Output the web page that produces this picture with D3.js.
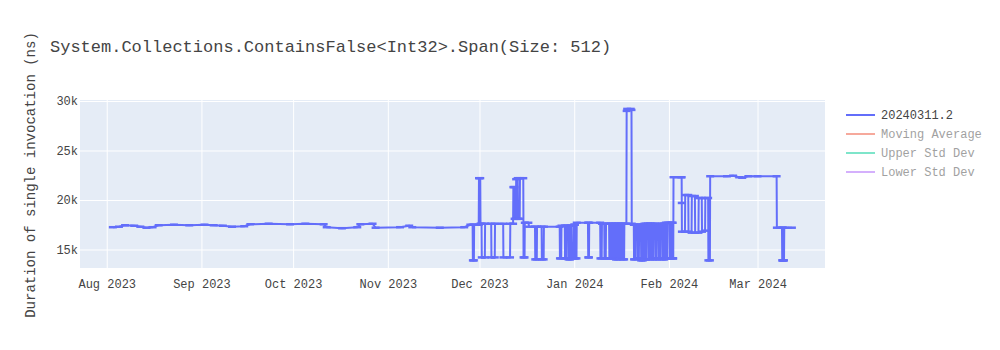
<!DOCTYPE html>
<html>
<head>
<meta charset="utf-8">
<script src="https://cdn.jsdelivr.net/npm/d3@7"></script>
<style>
  body { margin: 0; background: #fff; }
  svg text { font-family: "Liberation Mono", "Courier New", monospace; }
</style>
</head>
<body>
<div id="chart"></div>
<script>
// benchmark samples: [time (UTC), duration ns]
var samples = [
  ["2023-08-03 00", 17250], ["2023-08-05 00", 17300], ["2023-08-07 00", 17450],
  ["2023-08-10 00", 17400], ["2023-08-12 00", 17300], ["2023-08-14 00", 17200],
  ["2023-08-16 00", 17250], ["2023-08-18 00", 17450], ["2023-08-23 00", 17500],
  ["2023-08-28 00", 17450], ["2023-09-02 00", 17500], ["2023-09-05 00", 17450],
  ["2023-09-08 00", 17400], ["2023-09-11 00", 17300], ["2023-09-15 00", 17350],
  ["2023-09-17 00", 17550], ["2023-09-23 00", 17600], ["2023-09-30 00", 17550],
  ["2023-10-05 00", 17600], ["2023-10-11 00", 17550], ["2023-10-12 00", 17250],
  ["2023-10-17 00", 17150], ["2023-10-22 00", 17250], ["2023-10-23 00", 17550],
  ["2023-10-27 00", 17600], ["2023-10-28 00", 17200], ["2023-11-05 00", 17250],
  ["2023-11-08 00", 17400], ["2023-11-09 00", 17250], ["2023-11-18 00", 17200],
  ["2023-11-26 00", 17250], ["2023-11-28 00", 17500],
  // december
  ["2023-11-28 18", 17500], ["2023-11-28 20", 13900], ["2023-11-29 04", 13900],
  ["2023-11-29 06", 17500], ["2023-11-30 18", 17500], ["2023-11-30 20", 22200],
  ["2023-12-01 06", 22200], ["2023-12-01 08", 17600], ["2023-12-01 16", 17600],
  ["2023-12-01 18", 14200], ["2023-12-02 18", 14200], ["2023-12-02 20", 17600],
  ["2023-12-04 20", 17600], ["2023-12-04 22", 14200], ["2023-12-06 00", 14200],
  ["2023-12-06 02", 17600], ["2023-12-08 18", 17600], ["2023-12-08 20", 14200],
  ["2023-12-11 00", 14200], ["2023-12-11 02", 17600], ["2023-12-12 00", 17600],
  ["2023-12-12 02", 21300], ["2023-12-12 10", 21300], ["2023-12-12 12", 18100],
  ["2023-12-12 22", 18100], ["2023-12-13 00", 22100], ["2023-12-13 12", 22200],
  ["2023-12-13 14", 18100], ["2023-12-14 04", 18100], ["2023-12-14 06", 22200],
  ["2023-12-15 08", 22200], ["2023-12-15 10", 14200], ["2023-12-15 18", 14200],
  ["2023-12-15 20", 17700], ["2023-12-17 00", 17700], ["2023-12-17 06", 17300],
  ["2023-12-19 04", 17300], ["2023-12-19 06", 14000], ["2023-12-19 18", 14000],
  ["2023-12-19 20", 17300], ["2023-12-21 08", 17300], ["2023-12-21 10", 14000],
  ["2023-12-22 00", 14000], ["2023-12-22 02", 17300], ["2023-12-27 06", 17300],
  ["2023-12-27 08", 14100], ["2023-12-27 18", 14100], ["2023-12-27 20", 17400],
  ["2023-12-28 22", 17400], ["2023-12-29 00", 14100], ["2023-12-29 10", 14100],
  ["2023-12-29 12", 17400], ["2023-12-30 02", 17400], ["2023-12-30 04", 14000],
  ["2023-12-30 16", 14000], ["2023-12-30 18", 17400], ["2023-12-31 04", 17400],
  ["2023-12-31 06", 14100], ["2023-12-31 20", 14100], ["2023-12-31 22", 17500],
  // january
  ["2024-01-01 06", 17500], ["2024-01-01 08", 14100], ["2024-01-01 18", 14100],
  ["2024-01-01 20", 17700], ["2024-01-05 12", 17700], ["2024-01-05 14", 14200],
  ["2024-01-05 20", 14200], ["2024-01-05 22", 17700], ["2024-01-09 12", 17700],
  ["2024-01-09 14", 14100], ["2024-01-10 00", 14100], ["2024-01-10 02", 17600],
  ["2024-01-10 20", 17600], ["2024-01-10 22", 14100], ["2024-01-11 08", 14100],
  ["2024-01-11 10", 17600], ["2024-01-12 10", 17600], ["2024-01-12 12", 14100],
  ["2024-01-12 22", 14100], ["2024-01-13 00", 17600], ["2024-01-13 12", 17600],
  ["2024-01-13 14", 14100], ["2024-01-14 00", 14100], ["2024-01-14 02", 17600],
  ["2024-01-14 14", 17600], ["2024-01-14 16", 14000], ["2024-01-15 04", 14000],
  ["2024-01-15 06", 17600], ["2024-01-15 16", 17600], ["2024-01-15 18", 14100],
  ["2024-01-16 06", 14100], ["2024-01-16 08", 17600], ["2024-01-16 20", 17600],
  ["2024-01-16 22", 14000], ["2024-01-17 08", 14000], ["2024-01-17 10", 17600],
  ["2024-01-18 02", 17600], ["2024-01-18 04", 29000], ["2024-01-18 08", 29200],
  ["2024-01-19 12", 29200], ["2024-01-19 18", 29100], ["2024-01-19 20", 17600],
  ["2024-01-20 12", 17500], ["2024-01-20 14", 14000], ["2024-01-21 00", 14000],
  ["2024-01-21 02", 17500], ["2024-01-21 16", 17500], ["2024-01-21 18", 14100],
  ["2024-01-22 04", 14100], ["2024-01-22 06", 17500], ["2024-01-22 20", 17500],
  ["2024-01-22 22", 13900], ["2024-01-23 10", 13900], ["2024-01-23 12", 17500],
  ["2024-01-24 00", 17600], ["2024-01-24 02", 14000], ["2024-01-24 12", 14000],
  ["2024-01-24 14", 17600], ["2024-01-25 04", 17600], ["2024-01-25 06", 14000],
  ["2024-01-25 18", 14000], ["2024-01-25 20", 17600], ["2024-01-26 08", 17600],
  ["2024-01-26 10", 14100], ["2024-01-26 20", 14100], ["2024-01-26 22", 17600],
  ["2024-01-27 12", 17600], ["2024-01-27 14", 14000], ["2024-01-28 00", 14000],
  ["2024-01-28 02", 17500], ["2024-01-28 16", 17500], ["2024-01-28 18", 14100],
  ["2024-01-29 04", 14100], ["2024-01-29 06", 17600], ["2024-01-29 20", 17600],
  ["2024-01-29 22", 14000], ["2024-01-30 10", 14000], ["2024-01-30 12", 17600],
  ["2024-01-31 00", 17700], ["2024-01-31 02", 14100], ["2024-01-31 12", 14100],
  ["2024-01-31 14", 17700], ["2024-02-01 06", 17700], ["2024-02-01 08", 14100],
  ["2024-02-01 20", 14100], ["2024-02-01 22", 17700], ["2024-02-02 06", 17700],
  ["2024-02-02 08", 14100], ["2024-02-02 10", 14100],
  // february / march
  ["2024-02-02 12", 22300], ["2024-02-05 00", 22300], ["2024-02-05 04", 22300],
  ["2024-02-05 05", 19700], ["2024-02-05 06", 16800], ["2024-02-06 06", 16800],
  ["2024-02-06 08", 20500], ["2024-02-07 08", 20500], ["2024-02-07 10", 16800],
  ["2024-02-08 10", 16700], ["2024-02-08 12", 20400], ["2024-02-09 12", 20400],
  ["2024-02-09 14", 16700], ["2024-02-10 16", 16700], ["2024-02-10 18", 20200],
  ["2024-02-11 18", 20200], ["2024-02-11 20", 16800], ["2024-02-12 20", 16900],
  ["2024-02-12 22", 20200], ["2024-02-13 20", 20200], ["2024-02-13 22", 13900],
  ["2024-02-14 10", 13900], ["2024-02-14 12", 22400], ["2024-02-20 00", 22400],
  ["2024-02-22 00", 22450], ["2024-02-24 00", 22300], ["2024-02-25 00", 22250],
  ["2024-02-27 00", 22400], ["2024-03-01 00", 22400], ["2024-03-07 06", 22400],
  ["2024-03-07 08", 17200], ["2024-03-09 00", 17200], ["2024-03-09 02", 13900],
  ["2024-03-09 06", 13900], ["2024-03-09 08", 17200], ["2024-03-09 10", 13900],
  ["2024-03-09 16", 13900], ["2024-03-09 18", 17200], ["2024-03-12 06", 17200]
];

var xTickDates = ["2023-08-01", "2023-09-01", "2023-10-01", "2023-11-01", "2023-12-01", "2024-01-01", "2024-02-01", "2024-03-01"];
var xTickLabels = ["Aug 2023", "Sep 2023", "Oct 2023", "Nov 2023", "Dec 2023", "Jan 2024", "Feb 2024", "Mar 2024"];
var yTicks = [15000, 20000, 25000, 30000];
var yTickLabels = ["15k", "20k", "25k", "30k"];

var legendNames = ["20240311.2", "Moving Average", "Upper Std Dev", "Lower Std Dev"];
var legendColors = ["#636efa", "#EF553B", "#00cc96", "#ab63fa"];

var chartTitle = "System.Collections.ContainsFalse<Int32>.Span(Size: 512)";
var yTitle = "Duration of single invocation (ns)";

var parseTime = d3.utcParse("%Y-%m-%d %H");
var parseDay = d3.utcParse("%Y-%m-%d");

var data = samples.map(function(d) {
  return { t: parseTime(d[0]), v: d[1] };
});

var W = 1000, H = 350;
var margin = { top: 100, right: 175, bottom: 82, left: 80 };
var width = W - margin.left - margin.right,
    height = H - margin.top - margin.bottom;

var svg = d3.select("#chart").append("svg")
  .attr("width", W)
  .attr("height", H);

var g = svg.append("g")
  .attr("transform", "translate(" + margin.left + "," + margin.top + ")");

var x = d3.scaleUtc()
  .domain([parseTime("2023-07-23 06"), parseTime("2024-03-23 02")])
  .range([0, width]);

var y = d3.scaleLinear()
  .domain([13130, 30100])
  .range([height, 0]);

// plot background
g.append("rect")
  .attr("width", width)
  .attr("height", height)
  .attr("fill", "#E5ECF6");

// grid lines
g.append("g")
  .call(d3.axisBottom(x).tickValues(xTickDates.map(parseDay)).tickSize(height).tickFormat(""))
  .call(function(s) {
    s.select(".domain").remove();
    s.selectAll("line").attr("stroke", "#fff").attr("stroke-width", 1);
  });

g.append("g")
  .call(d3.axisLeft(y).tickValues(yTicks).tickSize(-width).tickFormat(""))
  .call(function(s) {
    s.select(".domain").remove();
    s.selectAll("line").attr("stroke", "#fff").attr("stroke-width", 1);
  });

// x axis labels
g.append("g")
  .attr("transform", "translate(0," + height + ")")
  .call(d3.axisBottom(x).tickValues(xTickDates.map(parseDay)).tickSize(0).tickPadding(11)
    .tickFormat(function(d, i) { return xTickLabels[i]; }))
  .call(function(s) {
    s.select(".domain").remove();
    s.selectAll("text").attr("fill", "#444").style("font-size", "12px")
      .style("font-family", "'Liberation Mono', monospace");
  });

// y axis labels
g.append("g")
  .call(d3.axisLeft(y).tickValues(yTicks).tickSize(0).tickPadding(2)
    .tickFormat(function(d, i) { return yTickLabels[i]; }))
  .call(function(s) {
    s.select(".domain").remove();
    s.selectAll("text").attr("fill", "#444").style("font-size", "12px")
      .style("font-family", "'Liberation Mono', monospace");
  });

// clip so the markers stay in the plot
g.append("clipPath").attr("id", "plotclip")
  .append("rect").attr("width", width).attr("height", height);

var plot = g.append("g").attr("clip-path", "url(#plotclip)");

// the series
var line = d3.line()
  .x(function(d) { return x(d.t); })
  .y(function(d) { return y(d.v); });

plot.append("path")
  .datum(data)
  .attr("fill", "none")
  .attr("stroke", legendColors[0])
  .attr("stroke-width", 2)
  .attr("stroke-linejoin", "round")
  .attr("d", line);

// horizontal dash markers on every sample
plot.selectAll(".mk")
  .data(data)
  .enter().append("line")
  .attr("class", "mk")
  .attr("x1", function(d) { return x(d.t) - 4; })
  .attr("x2", function(d) { return x(d.t) + 4; })
  .attr("y1", function(d) { return y(d.v); })
  .attr("y2", function(d) { return y(d.v); })
  .attr("stroke", legendColors[0])
  .attr("stroke-width", 2.5);

// title
svg.append("text")
  .attr("x", 50)
  .attr("y", 52)
  .attr("fill", "#444")
  .style("font-size", "17px")
  .text(chartTitle);

// y axis title
svg.append("text")
  .attr("transform", "translate(35," + (margin.top + height / 2 - 9) + ") rotate(-90)")
  .attr("text-anchor", "middle")
  .attr("fill", "#444")
  .style("font-size", "14px")
  .text(yTitle);

// legend (only first trace is visible, others are legend-only)
var legend = svg.append("g")
  .attr("transform", "translate(846,115)");

var items = legend.selectAll("g")
  .data(legendNames)
  .enter().append("g")
  .attr("transform", function(d, i) { return "translate(0," + (i * 19) + ")"; })
  .attr("opacity", function(d, i) { return i == 0 ? 1 : 0.5; });

items.append("line")
  .attr("x1", 0).attr("x2", 29)
  .attr("stroke", function(d, i) { return legendColors[i]; })
  .attr("stroke-width", 2);

items.append("text")
  .attr("x", 35)
  .attr("dy", "0.35em")
  .attr("fill", "#444")
  .style("font-size", "12px")
  .text(function(d) { return d; });
</script>
</body>
</html>
